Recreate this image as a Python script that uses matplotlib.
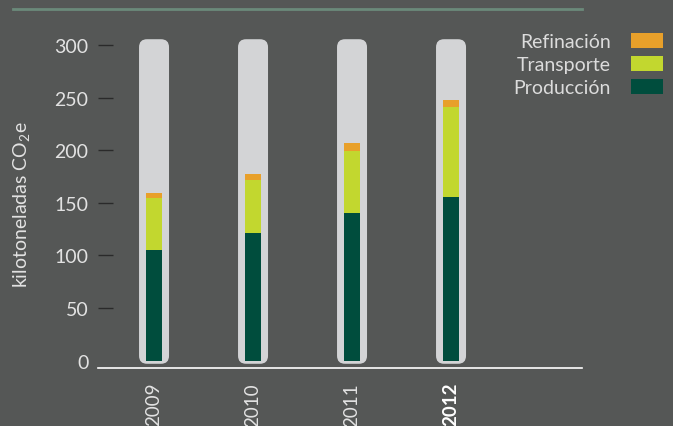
import numpy as np
import matplotlib.pyplot as plt
from matplotlib.patches import FancyBboxPatch, Patch
from matplotlib.lines import Line2D

# Emisiones por año (kilotoneladas CO2e)
years = ["2009", "2010", "2011", "2012"]
produccion = [105, 121, 140, 156]
transporte = [50, 50.5, 59, 85]
refinacion = [4, 5.5, 8, 7]
series_names = ["Refinación", "Transporte", "Producción"]
y_ticks = [0, 50, 100, 150, 200, 250, 300]

bg = "#555756"
text_col = "#e2e2e2"
colors = {"Producción": "#004d3d", "Transporte": "#c2d72f", "Refinación": "#e8a02a"}

plt.rcParams["font.family"] = ["Lato", "DejaVu Sans"]
plt.rcParams["mathtext.fontset"] = "custom"
plt.rcParams["mathtext.rm"] = "Lato"
plt.rcParams["mathtext.it"] = "Lato"

fig = plt.figure(figsize=(6.73, 4.27), dpi=100, facecolor=bg)
# axes: x from 98 to 582 px, y from 369 (bottom) to 30 (top) px
ax = fig.add_axes([98 / 673, 58 / 427, 484 / 673, 339 / 427])
ax.set_facecolor(bg)

x = np.arange(len(years))
ax.set_xlim(-0.566, 4.323)
ax.set_ylim(-7.0, 315.2)

# px -> data conversions for the rounded background capsules
px_x = 1 / 99.0
px_y = 1 / 1.052
cap_w = 30 * px_x
for xi in x:
    capsule = FancyBboxPatch(
        (xi - cap_w / 2, -3.0), cap_w, 308.5,
        boxstyle="round,pad=0,rounding_size=%f" % (8 * px_x),
        mutation_aspect=px_y / px_x,
        facecolor="#d3d4d6", edgecolor="none", zorder=1,
    )
    ax.add_patch(capsule)

bar_w = 16 * px_x
prod = np.array(produccion)
trans = np.array(transporte)
ref = np.array(refinacion)
ax.bar(x, prod, width=bar_w, color=colors["Producción"], zorder=2)
ax.bar(x, trans, width=bar_w, bottom=prod, color=colors["Transporte"], zorder=2)
ax.bar(x, ref, width=bar_w, bottom=prod + trans, color=colors["Refinación"], zorder=2)

# axes styling
for s in ["left", "right", "top"]:
    ax.spines[s].set_visible(False)
ax.spines["bottom"].set_color("white")
ax.spines["bottom"].set_linewidth(1.2)

ax.set_yticks(y_ticks)
ax.tick_params(axis="y", direction="in", length=11, width=1, color="#2a2a2a",
               pad=7, labelsize=14, labelcolor=text_col)
ax.yaxis.get_major_ticks()[0].tick1line.set_visible(False)

ax.set_xticks(x)
ax.set_xticklabels(years, rotation=90, va="top", ha="center")
ax.tick_params(axis="x", length=0, pad=10, labelsize=13.5, labelcolor=text_col)
ax.get_xticklabels()[-1].set_fontweight("bold")
ax.get_xticklabels()[-1].set_color("white")

fig.text(22 / 673, 1 - 205 / 427, "kilotoneladas CO$_2$e", rotation=90,
         ha="center", va="center", fontsize=14, color=text_col)

# green top rule
fig.add_artist(Line2D([13 / 673, 582 / 673], [1 - 10 / 427, 1 - 10 / 427],
                      color="#6b8a7a", linewidth=2))

handles = [Patch(facecolor=colors[n], edgecolor="none") for n in series_names]
leg = fig.legend(handles, series_names, loc="upper right",
                 bbox_to_anchor=(663 / 673, 1 - 34 / 427), frameon=False,
                 markerfirst=False, fontsize=14, handlelength=1.64,
                 handleheight=0.82, handletextpad=1.03, labelspacing=0.29,
                 borderpad=0, borderaxespad=0)
for t in leg.get_texts():
    t.set_color("#dcdcdc")

fig.savefig("out.png", dpi=100, facecolor=bg)
